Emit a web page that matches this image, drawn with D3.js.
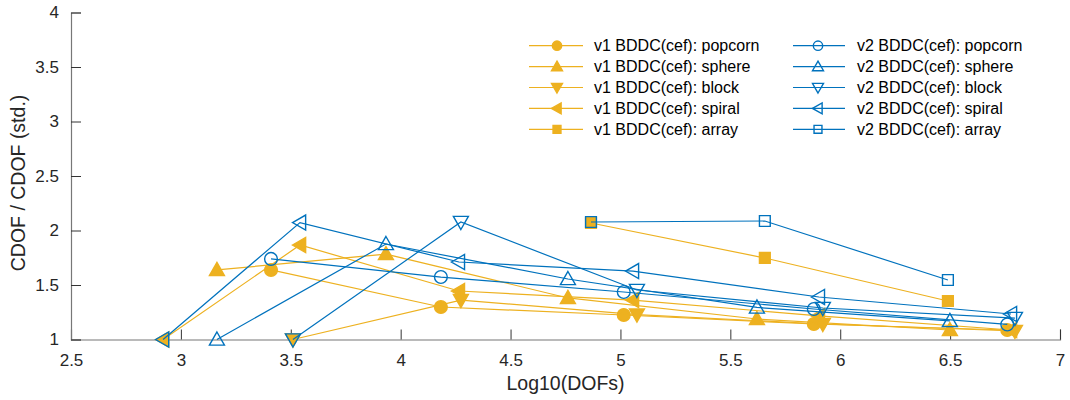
<!DOCTYPE html>
<html>
<head>
<meta charset="utf-8">
<script src="https://cdn.jsdelivr.net/npm/d3@7"></script>
<style>
  body { margin: 0; background: #fff; }
  svg { display: block; font-family: "Liberation Sans", Arial, Helvetica, sans-serif; }
</style>
</head>
<body>
<svg id="chart" width="1070" height="400"></svg>
<script>
// ---- data ----
const xTicks = [2.5, 3, 3.5, 4, 4.5, 5, 5.5, 6, 6.5, 7];
const yTicks = [1, 1.5, 2, 2.5, 3, 3.5, 4];

const popcornX = [3.41, 4.183, 5.015, 5.88, 6.76];
const v1Popcorn = [1.638, 1.298, 1.225, 1.142, 1.087];
const v2Popcorn = [1.739, 1.573, 1.436, 1.280, 1.138];

const sphereX = [3.164, 3.933, 4.761, 5.621, 6.499];
const v1Sphere = [1.638, 1.784, 1.381, 1.188, 1.087];
const v2Sphere = [1.0, 1.876, 1.555, 1.294, 1.170];

const blockX = [3.51, 4.274, 5.075, 5.921, 6.795];
const v1Block = [1.0, 1.362, 1.229, 1.142, 1.078];
const v2Block = [1.0, 2.078, 1.454, 1.289, 1.197];

const spiralX = [2.919, 3.542, 4.265, 5.057, 5.903, 6.777];
const v1Spiral = [1.0, 1.867, 1.445, 1.362, 1.216, 1.087];
const v2Spiral = [1.0, 2.073, 1.711, 1.628, 1.390, 1.234];

const arrayX = [4.866, 5.657, 6.49];
const v1Array = [2.069, 1.748, 1.353];
const v2Array = [2.078, 2.087, 1.546];

const seriesNames = [
  "v1 BDDC(cef): popcorn", "v1 BDDC(cef): sphere", "v1 BDDC(cef): block",
  "v1 BDDC(cef): spiral", "v1 BDDC(cef): array",
  "v2 BDDC(cef): popcorn", "v2 BDDC(cef): sphere", "v2 BDDC(cef): block",
  "v2 BDDC(cef): spiral", "v2 BDDC(cef): array"
];

const orange = "#EDB120", blue = "#0072BD";

const series = [
  { name: seriesNames[0], x: popcornX, y: v1Popcorn, marker: "circle", color: orange, filled: true },
  { name: seriesNames[1], x: sphereX, y: v1Sphere, marker: "up", color: orange, filled: true },
  { name: seriesNames[2], x: blockX, y: v1Block, marker: "down", color: orange, filled: true },
  { name: seriesNames[3], x: spiralX, y: v1Spiral, marker: "left", color: orange, filled: true },
  { name: seriesNames[4], x: arrayX, y: v1Array, marker: "square", color: orange, filled: true },
  { name: seriesNames[5], x: popcornX, y: v2Popcorn, marker: "circle", color: blue, filled: false },
  { name: seriesNames[6], x: sphereX, y: v2Sphere, marker: "up", color: blue, filled: false },
  { name: seriesNames[7], x: blockX, y: v2Block, marker: "down", color: blue, filled: false },
  { name: seriesNames[8], x: spiralX, y: v2Spiral, marker: "left", color: blue, filled: false },
  { name: seriesNames[9], x: arrayX, y: v2Array, marker: "square", color: blue, filled: false }
];

// ---- layout ----
const svg = d3.select("#chart");
const L = 71, R = 1060, T = 12.5, B = 339.5;
const x = d3.scaleLinear().domain([2.5, 7]).range([L, R]);
const y = d3.scaleLinear().domain([1, 4]).range([B, T]);

function markerPath(type, s) {
  // s: half-size
  switch (type) {
    case "circle": return null;
    case "up": return `M0,${-s}L${s},${s*0.75}L${-s},${s*0.75}Z`;
    case "down": return `M0,${s}L${s},${-s*0.75}L${-s},${-s*0.75}Z`;
    case "left": return `M${-s},0L${s*0.75},${-s}L${s*0.75},${s}Z`;
    case "square": return `M${-s},${-s}H${s}V${s}H${-s}Z`;
  }
}
function drawMarker(g, type, cx, cy, s, color, filled) {
  if (type === "circle") {
    g.append("circle").attr("cx", cx).attr("cy", cy).attr("r", s*0.85)
      .attr("fill", filled ? color : "none").attr("stroke", color).attr("stroke-width", 1.4);
  } else {
    const ss = type === "square" ? s*0.72 : s;
    g.append("path").attr("d", markerPath(type, ss))
      .attr("transform", `translate(${cx},${cy})`)
      .attr("fill", filled ? color : "none").attr("stroke", color).attr("stroke-width", 1.4)
      .attr("stroke-linejoin", "miter");
  }
}

// axes
const axColor = "#555";
const xAxis = svg.append("g").attr("transform", `translate(0,${B})`)
  .call(d3.axisBottom(x).tickValues(xTicks).tickSize(-10).tickPadding(14).tickFormat(d3.format("")));
const yAxis = svg.append("g").attr("transform", `translate(${L},0)`)
  .call(d3.axisLeft(y).tickValues(yTicks).tickSize(-10).tickPadding(12).tickFormat(d3.format("")));
[xAxis, yAxis].forEach(a => {
  a.select(".domain").attr("stroke", "#777").attr("stroke-width", 1.2);
  a.selectAll(".tick line").attr("stroke", "#333").attr("stroke-width", 1);
  a.selectAll(".tick text").attr("fill", "#262626").attr("font-size", 17)
    .attr("font-family", "Liberation Sans, Arial, sans-serif");
});

// axis labels
svg.append("text").attr("x", (L + R) / 2).attr("y", 390).attr("text-anchor", "middle")
  .attr("font-size", 19.5).attr("fill", "#262626").text("Log10(DOFs)");
svg.append("text").attr("transform", `translate(25,183) rotate(-90)`).attr("text-anchor", "middle")
  .attr("font-size", 19.5).attr("fill", "#262626").text("CDOF / CDOF (std.)");

// series
const plot = svg.append("g");
const line = d3.line().x(d => x(d[0])).y(d => y(d[1]));
series.forEach(s => {
  const pts = s.x.map((v, i) => [v, s.y[i]]);
  const g = plot.append("g");
  g.append("path").attr("d", line(pts)).attr("fill", "none")
    .attr("stroke", s.color).attr("stroke-width", 1.2);
  pts.forEach(p => drawMarker(g, s.marker, x(p[0]), y(p[1]), 7.5, s.color, s.filled));
});

// legend
const legend = svg.append("g");
const rowY = [45.7, 66.6, 87.5, 108.4, 129.3];
series.forEach((s, i) => {
  const col = i < 5 ? 0 : 1;
  const row = i % 5;
  const x0 = col === 0 ? 529 : 793;
  const x1 = col === 0 ? 583 : 845;
  const mx = col === 0 ? 557 : 818;
  const tx = col === 0 ? 594 : 857;
  const yy = rowY[row];
  const g = legend.append("g");
  g.append("line").attr("x1", x0).attr("x2", x1).attr("y1", yy).attr("y2", yy)
    .attr("stroke", s.color).attr("stroke-width", 1.2);
  drawMarker(g, s.marker, mx, yy, 5.5, s.color, s.filled);
  g.append("text").attr("x", tx).attr("y", yy + 5.5).attr("font-size", 16)
    .attr("fill", "#000").text(s.name);
});
</script>
</body>
</html>
